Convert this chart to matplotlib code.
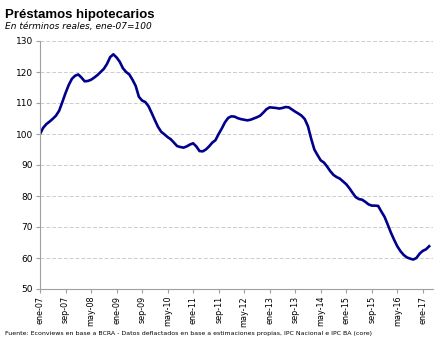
import numpy as np
import matplotlib.pyplot as plt

# monthly index, ene-07 = 100
valores = [
    100.0, 102.0, 103.2, 104.0, 104.9, 105.9, 107.5, 110.3, 113.2, 115.8,
    117.8, 118.8, 119.2, 118.2, 117.0, 117.1, 117.5, 118.2, 119.0, 120.0,
    121.0, 122.6, 124.8, 125.7, 124.7, 123.3, 121.2, 120.0, 119.2, 117.5,
    115.5, 112.0, 110.8, 110.3, 109.0, 106.8, 104.5, 102.3, 100.7, 99.9,
    99.0, 98.3, 97.2, 96.1, 95.8, 95.6, 96.0, 96.6, 97.0, 96.0,
    94.5, 94.4, 95.0, 96.0, 97.2, 98.0, 100.0, 101.8, 103.8, 105.2,
    105.7, 105.6, 105.1, 104.8, 104.6, 104.4, 104.6, 105.0, 105.4, 105.9,
    106.9, 108.0, 108.6, 108.5, 108.4, 108.2, 108.4, 108.7, 108.6, 107.9,
    107.2, 106.6, 105.9, 104.8, 102.5, 98.5, 95.0, 93.2, 91.5, 90.8,
    89.5, 88.0, 86.8, 86.1, 85.6, 84.7, 83.8, 82.5, 81.0, 79.6,
    79.0, 78.8, 78.1, 77.3, 76.9, 76.9, 76.8, 75.0, 73.3, 70.8,
    68.2, 65.9, 63.8, 62.2, 61.0, 60.2, 59.8, 59.5, 60.0, 61.4,
    62.3, 62.8, 63.8,
]
etiquetas = ['ene-07', 'sep-07', 'may-08', 'ene-09', 'sep-09', 'may-10', 'ene-11',
             'sep-11', 'may-12', 'ene-13', 'sep-13', 'may-14', 'ene-15', 'sep-15',
             'may-16', 'ene-17']
pos_etiquetas = [0, 8, 16, 24, 32, 40, 48, 56, 64, 72, 80, 88, 96, 104, 112, 120]

meses = np.arange(len(valores))

fig = plt.figure(figsize=(4.46, 3.40), dpi=100)
ax = fig.add_axes([40/446, 51/340, 393/446, 248/340])

ax.plot(meses, valores, color='#00008c', linewidth=1.9, solid_joinstyle='round')

ax.set_xlim(0, 123.2)
ax.set_ylim(50, 130)
ax.set_yticks(range(50, 131, 10))
ax.set_xticks(pos_etiquetas)
ax.set_xticklabels(etiquetas, rotation=90, fontsize=5.8)
ax.tick_params(axis='y', labelsize=6.5, length=3, color='#a0a0a0', pad=2)
ax.tick_params(axis='x', length=3, color='#a0a0a0', pad=2)

ax.grid(axis='y', color='#cccccc', linestyle=(0, (4, 2)), linewidth=0.7)
ax.set_axisbelow(True)
for s in ['top', 'right']:
    ax.spines[s].set_visible(False)
ax.spines['left'].set_color('#a0a0a0')
ax.spines['bottom'].set_color('#a0a0a0')

fig.text(5/446, 1 - 15/340, 'Préstamos hipotecarios', fontsize=9.5, fontweight='bold',
         family='Liberation Sans', va='center', ha='left')
fig.text(5/446, 1 - 27/340, 'En términos reales, ene-07=100', fontsize=6.5, style='italic',
         va='center', ha='left')
fig.text(5/446, 1 - 334/340,
         'Fuente: Econviews en base a BCRA - Datos deflactados en base a estimaciones propias, IPC Nacional e IPC BA (core)',
         fontsize=4.5, va='center', ha='left')

fig.savefig('out.png', dpi=100)
